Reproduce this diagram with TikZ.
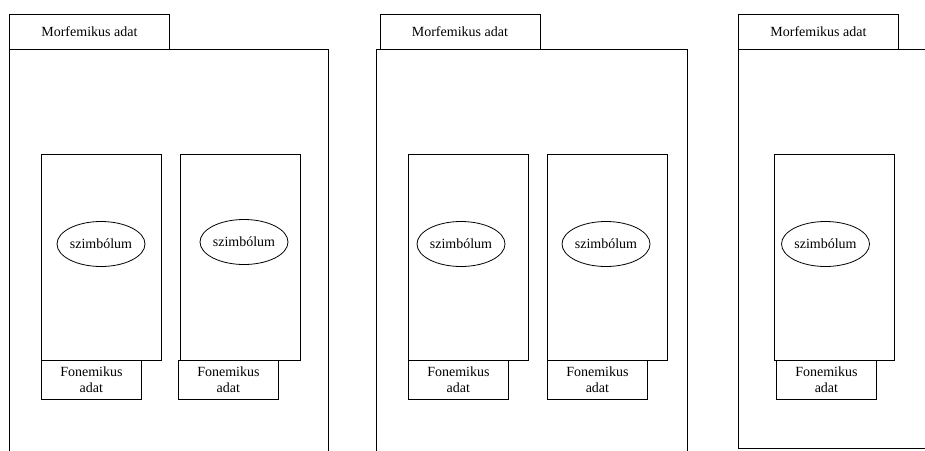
\documentclass[tikz,border=0pt]{standalone}
\usepackage{fontspec}
\setmainfont{Liberation Serif}
\usetikzlibrary{shapes.geometric}
\begin{document}
\begin{tikzpicture}[x=1pt, y=-1pt,
  box/.style={draw, rectangle, inner sep=0pt, anchor=north west, line width=0.8pt},
  txt/.style={font=\fontsize{14}{16}\selectfont},
  tabbox/.style={box, txt, minimum width=160pt, minimum height=35pt},
  outerbox/.style={box, fill=white},
  cellbox/.style={box, minimum width=120pt, minimum height=206pt},
  symbol/.style={draw, ellipse, line width=0.8pt, inner sep=0pt, txt,
                 minimum width=81pt, minimum height=45pt},
  fonbox/.style={box, txt, fill=white, align=center,
                 minimum width=100pt, minimum height=39pt}]
  \clip (0,0) rectangle (925,450);
  \fill[white] (0,0) rectangle (925,450);

  % first group
  \node[tabbox] (tab1) at (9,14) {Morfemikus adat};
  \node[outerbox, minimum width=319pt, minimum height=420pt] (out1) at (9,49) {};
  \node[cellbox] (c11) at (41,154) {};
  \node[cellbox] (c12) at (180,154) {};
  \node[symbol] (s11) at (101,244) {szimbólum};
  \node[symbol] (s12) at (244,242) {szimbólum};
  \node[fonbox] (f11) at (41,360) {Fonemikus\\adat};
  \node[fonbox] (f12) at (178,360) {Fonemikus\\adat};

  % second group
  \node[tabbox] (tab2) at (379.5,14) {Morfemikus adat};
  \node[outerbox, minimum width=310.5pt, minimum height=420pt] (out2) at (376,49) {};
  \node[cellbox] (c21) at (408,154) {};
  \node[cellbox] (c22) at (547,154) {};
  \node[symbol] (s21) at (461,244) {szimbólum};
  \node[symbol] (s22) at (606,244) {szimbólum};
  \node[fonbox] (f21) at (408,360) {Fonemikus\\adat};
  \node[fonbox] (f22) at (547,360) {Fonemikus\\adat};

  % third group
  \node[tabbox] (tab3) at (738,14) {Morfemikus adat};
  \node[outerbox, minimum width=220pt, minimum height=399pt] (out3) at (738,49) {};
  \node[cellbox] (c31) at (774,154) {};
  \node[symbol] (s31) at (825.5,244) {szimbólum};
  \node[fonbox] (f31) at (776,360) {Fonemikus\\adat};
\end{tikzpicture}
\end{document}
